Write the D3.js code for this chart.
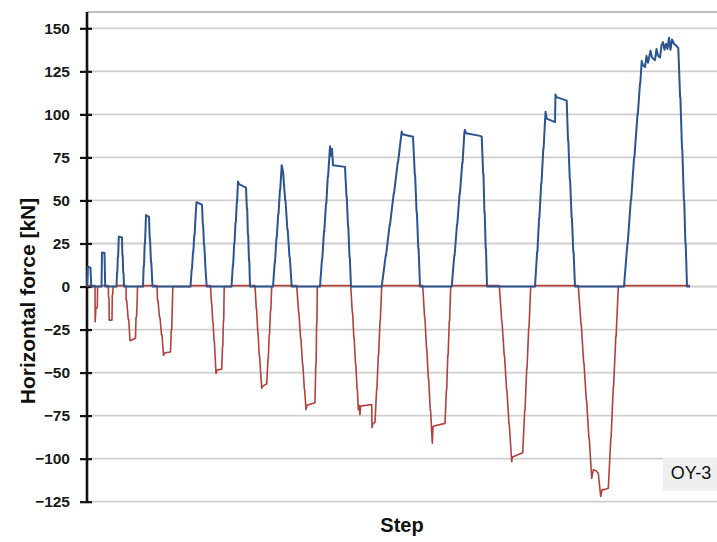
<!DOCTYPE html>
<html>
<head>
<meta charset="utf-8">
<script src="https://cdn.jsdelivr.net/npm/d3@7"></script>
<style>
  html, body { margin: 0; padding: 0; background: #fff; }
  svg { display: block; }
</style>
</head>
<body>
<svg id="chart" width="717" height="542"></svg>
<script>
// ---------------- DATA ----------------
const yTicks = [150, 125, 100, 75, 50, 25, 0, -25, -50, -75, -100, -125];
const xLabel = "Step";
const yLabel = "Horizontal force [kN]";
const specimen = "OY-3";

// positive-direction force  [step, kN]
const positiveForce = [
  [0,0],[8,11.5],[35,11],[42,0],
  [145,0],[150,19.8],[175,19.5],[182,0],
  [295,0],[300,8],[303,8],[308,17],[311,17],[318,29],[350,28.5],[354,18],[357,18],[362,8],[365,8],[370,0],
  [560,0],[567,12],[570,12],[577,25],[580,25],[590,41.5],[620,40.5],[627,28],[630,28],[640,14],[643,14],[655,0],
  [1035,0],[1047,10],[1050,10],[1060,20],[1063,20],[1073,30],[1076,30],[1086,41],[1095,49],[1150,47.5],[1158,36],[1161,36],[1170,24],[1173,24],[1185,10],[1197,0],
  [1445,0],[1458,12],[1461,12],[1472,25],[1475,25],[1485,37],[1488,37],[1498,49],[1501,49],[1510,61],[1520,59.5],[1590,57.5],[1599,45],[1602,45],[1609,30],[1612,30],[1620,15],[1623,15],[1630,0],
  [1860,0],[1877,14],[1880,14],[1894,28],[1897,28],[1912,42],[1915,42],[1929,56],[1932,56],[1947,70.5],[1960,67],[1982,50],[1985,50],[2004,33],[2007,33],[2025,17],[2028,17],[2047,0],
  [2330,0],[2350,16],[2353,16],[2370,32],[2373,32],[2390,48],[2393,48],[2408,64],[2411,64],[2430,81.5],[2440,76],[2450,80],[2460,70.5],[2580,69.5],[2595,52],[2598,52],[2610,35],[2613,35],[2625,17],[2628,17],[2640,0],
  [2947,0],[2987,18],[2990,18],[3027,36],[3030,36],[3067,54],[3070,54],[3107,72],[3110,72],[3147,90],[3155,88.5],[3260,87],[3278,65],[3281,65],[3296,43],[3299,43],[3313,22],[3316,22],[3330,0],
  [3647,0],[3673,18],[3676,18],[3700,36],[3703,36],[3726,54],[3729,54],[3753,72],[3756,72],[3770,86],[3775,90],[3780,91],[3790,89],[3930,87.5],[3947,87],[3962,65],[3965,65],[3974,43],[3977,43],[3987,22],[3990,22],[4000,0],
  [4480,0],[4501,20],[4504,20],[4521,40],[4524,40],[4542,60],[4545,60],[4563,80],[4566,80],[4585,101.5],[4597,97.5],[4680,95.5],[4685,111.5],[4695,110],[4797,108],[4810,85],[4813,85],[4828,62],[4831,62],[4846,40],[4849,40],[4863,20],[4866,20],[4880,0],
  [5370,0],[5404,25],[5407,25],[5438,50],[5441,50],[5471,75],[5474,75],[5505,100],[5508,100],[5530,118],[5533,118],[5547,131],[5560,128.5],[5580,127.5],[5595,134],[5610,130],[5635,137],[5650,133],[5680,131.5],[5695,138],[5710,134],[5730,133],[5745,140],[5760,142],[5775,137.5],[5790,141],[5805,138],[5820,144.5],[5835,137.5],[5850,143.5],[5870,141],[5890,140],[5913,138.5],[5931,110],[5934,110],[5950,80],[5953,80],[5969,50],[5972,50],[5984,25],[5987,25],[6000,0],[6030,0]
];

// negative-direction force  [step, kN]
const negativeForce = [
  [0,0],[5,0.5],[80,0.5],[82,-20.5],[88,-13],[103,-12],[106,0],
  [145,0],[150,0.5],[213,0.5],[215,-6],[220,-7],[222,-19.5],[250,-19.5],[253,-5],[258,-4],[260,0],
  [295,0],[300,0.5],[390,0.5],[392,-8],[397,-8],[412,-19],[417,-19],[430,-31.5],[485,-30],[490,-18],[495,-18],[502,-8],[505,0],
  [560,0],[565,0.5],[700,0.5],[705,-8],[710,-8],[725,-18],[730,-18],[745,-28],[750,-28],[765,-40],[780,-38.5],[835,-38],[843,-25],[847,-25],[853,-12],[858,0],
  [1035,0],[1040,0.5],[1235,0.5],[1245,-10],[1248,-10],[1258,-21],[1261,-21],[1271,-32],[1274,-32],[1290,-50.5],[1300,-48.5],[1347,-48],[1355,-35],[1358,-35],[1364,-20],[1367,-20],[1372,0],
  [1445,0],[1450,0.5],[1680,0.5],[1693,-13],[1696,-13],[1708,-27],[1711,-27],[1722,-40],[1725,-40],[1747,-59],[1755,-58],[1797,-56.5],[1810,-42],[1813,-42],[1822,-28],[1825,-28],[1835,-14],[1838,-14],[1847,0],
  [1860,0],[1865,0.5],[2097,0.5],[2116,-15],[2119,-15],[2136,-30],[2139,-30],[2155,-45],[2158,-45],[2174,-60],[2177,-60],[2190,-71.5],[2200,-69],[2280,-67.5],[2288,-45],[2291,-45],[2296,-22],[2299,-22],[2303,0],
  [2330,0],[2335,0.5],[2637,0.5],[2653,-15],[2656,-15],[2669,-30],[2672,-30],[2685,-45],[2688,-45],[2701,-60],[2704,-60],[2713,-71.5],[2720,-69],[2730,-74.5],[2735,-69.5],[2847,-68.5],[2850,-82],[2860,-79.5],[2880,-79],[2896,-60],[2899,-60],[2913,-40],[2916,-40],[2930,-20],[2933,-20],[2947,0],
  [2950,0.5],[3357,0.5],[3376,-18],[3379,-18],[3395,-36],[3398,-36],[3414,-54],[3417,-54],[3433,-72],[3436,-72],[3453,-91],[3460,-81.5],[3470,-81],[3580,-79.5],[3594,-60],[3597,-60],[3608,-40],[3611,-40],[3623,-20],[3626,-20],[3637,0],
  [3647,0],[3650,0.5],[4123,0.5],[4147,-20],[4150,-20],[4172,-40],[4175,-40],[4196,-60],[4199,-60],[4220,-80],[4223,-80],[4247,-101.8],[4255,-99],[4357,-96.5],[4377,-72],[4380,-72],[4397,-48],[4400,-48],[4417,-24],[4420,-24],[4437,0],
  [4480,0],[4485,0.5],[4913,0.5],[4940,-22],[4943,-22],[4966,-44],[4969,-44],[4993,-66],[4996,-66],[5019,-88],[5022,-88],[5047,-111.4],[5063,-106.5],[5090,-107],[5113,-108.5],[5137,-122],[5150,-118],[5170,-118],[5213,-117.2],[5238,-88],[5241,-88],[5263,-58],[5266,-58],[5288,-29],[5291,-29],[5313,0],
  [5370,0],[5375,0.5],[6030,0.5]
];

// ---------------- CHART ----------------
const svg = d3.select("#chart");
const plotLeft = 87, plotRight = 717, plotTop = 12;

const x = d3.scaleLinear().domain([0, 6300]).range([plotLeft, plotRight]);
const y = d3.scaleLinear().domain([-125, 150]).range([501.7, 28.3]);

// top frame line
svg.append("line")
  .attr("x1", plotLeft).attr("x2", plotRight).attr("y1", plotTop).attr("y2", plotTop)
  .attr("stroke", "#a8a8a8").attr("stroke-width", 1.5);

// gridlines
svg.append("g").selectAll("line").data(yTicks).join("line")
  .attr("x1", plotLeft).attr("x2", plotRight)
  .attr("y1", d => y(d)).attr("y2", d => y(d))
  .attr("stroke", "#cfcfcf").attr("stroke-width", 1.8);

// y axis
const yAxis = d3.axisLeft(y).tickValues(yTicks).tickSize(7).tickPadding(10)
  .tickFormat(d3.format("d"));
const gy = svg.append("g").attr("transform", `translate(${plotLeft},0)`).call(yAxis);
gy.select(".domain").remove();
gy.selectAll(".tick line").attr("x2", -7).attr("x1", 5)
  .attr("stroke", "#111").attr("stroke-width", 2.2);
gy.selectAll(".tick text")
  .attr("font-family", "'Liberation Sans', Arial, sans-serif")
  .attr("font-size", 15.5).attr("font-weight", "bold").attr("fill", "#1a1a1a")
  .attr("x", -17);
svg.append("line")
  .attr("x1", plotLeft).attr("x2", plotLeft).attr("y1", plotTop).attr("y2", 502.5)
  .attr("stroke", "#111").attr("stroke-width", 2.6);

// lines
const line = d3.line().x(d => x(d[0])).y(d => y(d[1]));
svg.append("path").datum(negativeForce).attr("d", line)
  .attr("fill", "none").attr("stroke", "#b2403d").attr("stroke-width", 1.6)
  .attr("stroke-linejoin", "round");
svg.append("path").datum(positiveForce).attr("d", line)
  .attr("fill", "none").attr("stroke", "#2c5490").attr("stroke-width", 2)
  .attr("stroke-linejoin", "round");

// axis titles
svg.append("text")
  .attr("x", 402).attr("y", 532)
  .attr("text-anchor", "middle")
  .attr("font-family", "'Liberation Sans', Arial, sans-serif")
  .attr("font-size", 20).attr("font-weight", "bold").attr("fill", "#111")
  .text(xLabel);
svg.append("text")
  .attr("transform", "translate(35,301) rotate(-90)")
  .attr("text-anchor", "middle")
  .attr("font-family", "'Liberation Sans', Arial, sans-serif")
  .attr("font-size", 21).attr("font-weight", "bold").attr("fill", "#111")
  .text(yLabel);

// specimen label box
svg.append("rect")
  .attr("x", 663).attr("y", 458).attr("width", 54).attr("height", 33)
  .attr("fill", "#efefef");
svg.append("text")
  .attr("x", 691).attr("y", 478.5)
  .attr("text-anchor", "middle")
  .attr("font-family", "'Liberation Sans', Arial, sans-serif")
  .attr("font-size", 18).attr("fill", "#111")
  .text(specimen);
</script>
</body>
</html>
